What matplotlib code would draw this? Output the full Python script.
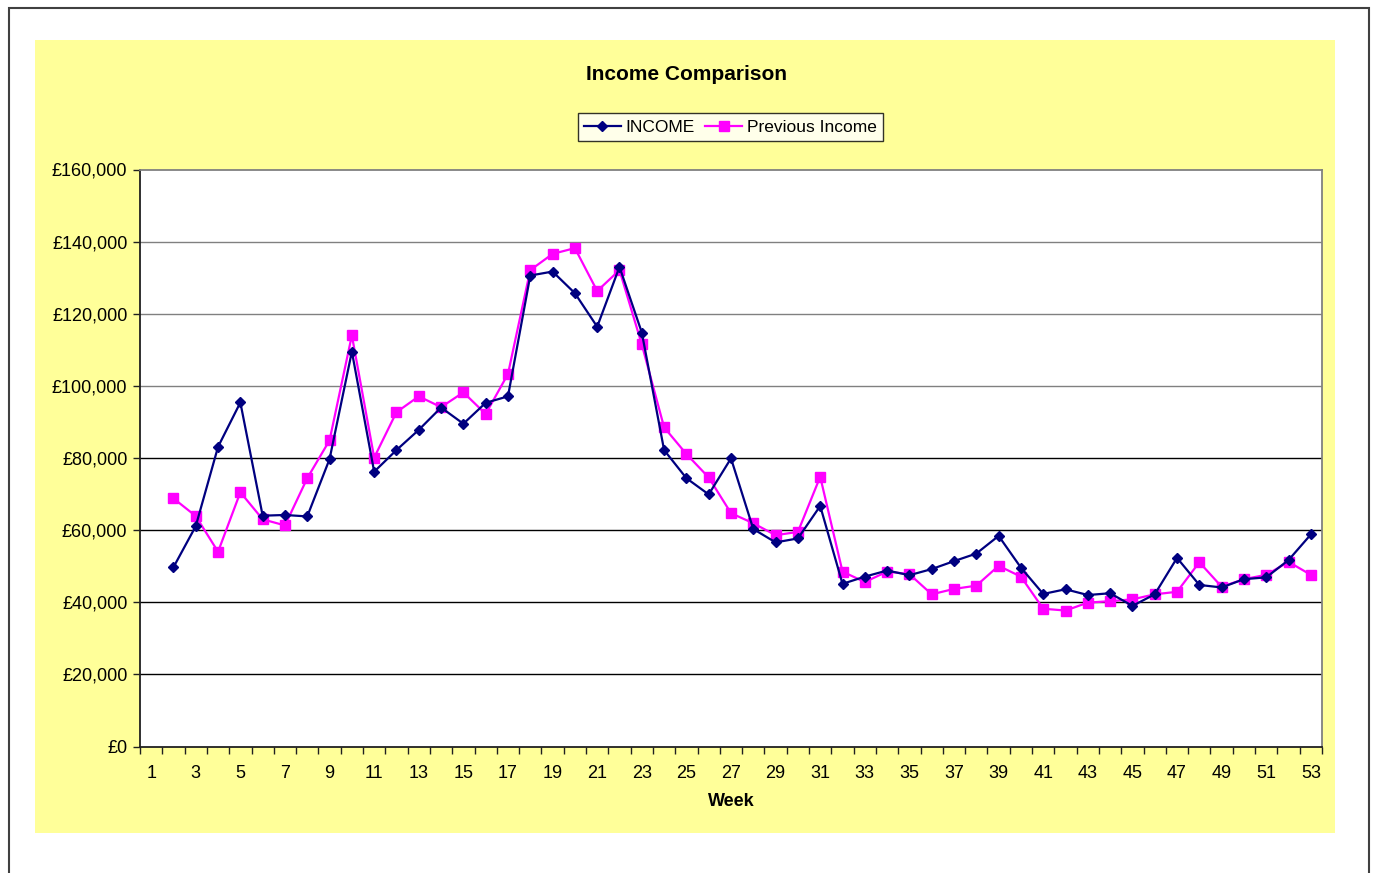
import matplotlib
matplotlib.use("Agg")
import matplotlib.pyplot as plt
from matplotlib.patches import Rectangle
from matplotlib.ticker import FuncFormatter, FixedLocator
import numpy as np

plt.rcParams['font.family'] = ['Liberation Sans', 'DejaVu Sans']

weeks = list(range(1, 54))
income = [None, 49700, 61100, 83100, 95400, 64000, 64200, 63800, 79700, 109500,
          76200, 82200, 87800, 94000, 89500, 95300, 97100, 130600, 131700, 125700,
          116400, 133000, 114800, 82200, 74400, 69900, 79900, 60300, 56600, 57700,
          66700, 45100, 47100, 48800, 47500, 49200, 51400, 53500, 58400, 49600,
          42300, 43600, 42000, 42500, 39000, 42200, 52300, 44800, 44100, 46400,
          46900, 51700, 58800]
previous = [None, 68800, 63900, 54000, 70500, 63000, 61300, 74400, 84900, 114000,
            80100, 92700, 97100, 94100, 98200, 92200, 103300, 132100, 136600, 138200,
            126300, 132100, 111500, 88500, 81100, 74600, 64700, 61900, 58600, 59500,
            74800, 48500, 45600, 48500, 47800, 42200, 43700, 44600, 50100, 47100,
            38200, 37700, 39900, 40300, 40800, 42200, 42900, 51100, 44300, 46400,
            47600, 51200, 47600]
y_ticks = [0, 20000, 40000, 60000, 80000, 100000, 120000, 140000, 160000]
x_labels = [w for w in weeks if w % 2 == 1]

W, H = 1377, 873
fig = plt.figure(figsize=(W / 100, H / 100), dpi=100)
fig.patch.set_facecolor('white')

# outer border
fig.add_artist(Rectangle((8.5 / W, -0.05), (1369 - 8.5) / W, 1.05 - 8.5 / H,
                         transform=fig.transFigure, fill=False,
                         edgecolor='#404040', linewidth=1.5))
# yellow chart area
fig.add_artist(Rectangle((35 / W, 1 - 833 / H), (1335 - 35) / W, (833 - 40) / H,
                         transform=fig.transFigure, facecolor='#FFFF99',
                         edgecolor='none', zorder=0))

left, right, top, bottom = 140, 1322, 169.5, 746.5
ax = fig.add_axes([left / W, 1 - bottom / H, (right - left) / W, (bottom - top) / H])
ax.set_facecolor('white')

x = np.array(weeks, dtype=float)
inc = np.array([np.nan if v is None else v for v in income], dtype=float)
prv = np.array([np.nan if v is None else v for v in previous], dtype=float)

for yv in y_ticks[1:-1]:
    ax.axhline(yv, color='#808080' if yv >= 100000 else '#000000', lw=1.0, zorder=1)

ax.plot(x, inc, color='#000080', lw=1.6, marker='D', markersize=5.6,
        markerfacecolor='#000080', markeredgecolor='#000080', label='INCOME', zorder=3)
ax.plot(x, prv, color='#FF00FF', lw=1.6, marker='s', markersize=7.2,
        markerfacecolor='#FF00FF', markeredgecolor='#FF00FF', label='Previous Income', zorder=2)

ax.set_xlim(0.5, 53.5)
ax.set_ylim(0, 160000)

ax.yaxis.set_major_locator(FixedLocator(y_ticks))
ax.yaxis.set_major_formatter(FuncFormatter(lambda v, p: '£{:,.0f}'.format(v)))

ax.xaxis.set_major_locator(FixedLocator([w - 0.5 for w in weeks] + [53.5]))
ax.xaxis.set_major_formatter(FuncFormatter(lambda v, p: ''))
ax.xaxis.set_minor_locator(FixedLocator(x_labels))
ax.xaxis.set_minor_formatter(FuncFormatter(lambda v, p: '%d' % v))

ax.tick_params(axis='x', which='major', direction='out', length=5, width=1, color='#202020')
ax.tick_params(axis='x', which='minor', length=0, pad=13, labelsize=13)
ax.tick_params(axis='y', which='major', direction='out', length=5, width=1,
               color='#202020', labelsize=13, pad=4)

for s in ['left', 'bottom']:
    ax.spines[s].set_color('#202020')
    ax.spines[s].set_linewidth(1.3)
for s in ['top', 'right']:
    ax.spines[s].set_color('#808080')
    ax.spines[s].set_linewidth(1.3)

fig.text(686 / W, 1 - 74 / H, 'Income Comparison', ha='center', va='center',
         fontsize=15, fontweight='bold')
fig.text(731 / W, 1 - 802 / H, 'Week', ha='center', va='center',
         fontsize=13, fontweight='bold')

leg = fig.legend(loc='center', bbox_to_anchor=(730.5 / W, 1 - 127 / H), ncol=2,
                 fontsize=12.5, frameon=True, fancybox=False, handlelength=2.1,
                 handletextpad=0.3, columnspacing=0.6, borderpad=0.36,
                 borderaxespad=0)
leg.get_frame().set_edgecolor('black')
leg.get_frame().set_linewidth(1.0)
leg.get_frame().set_facecolor('white')

fig.savefig('out.png', dpi=100)
